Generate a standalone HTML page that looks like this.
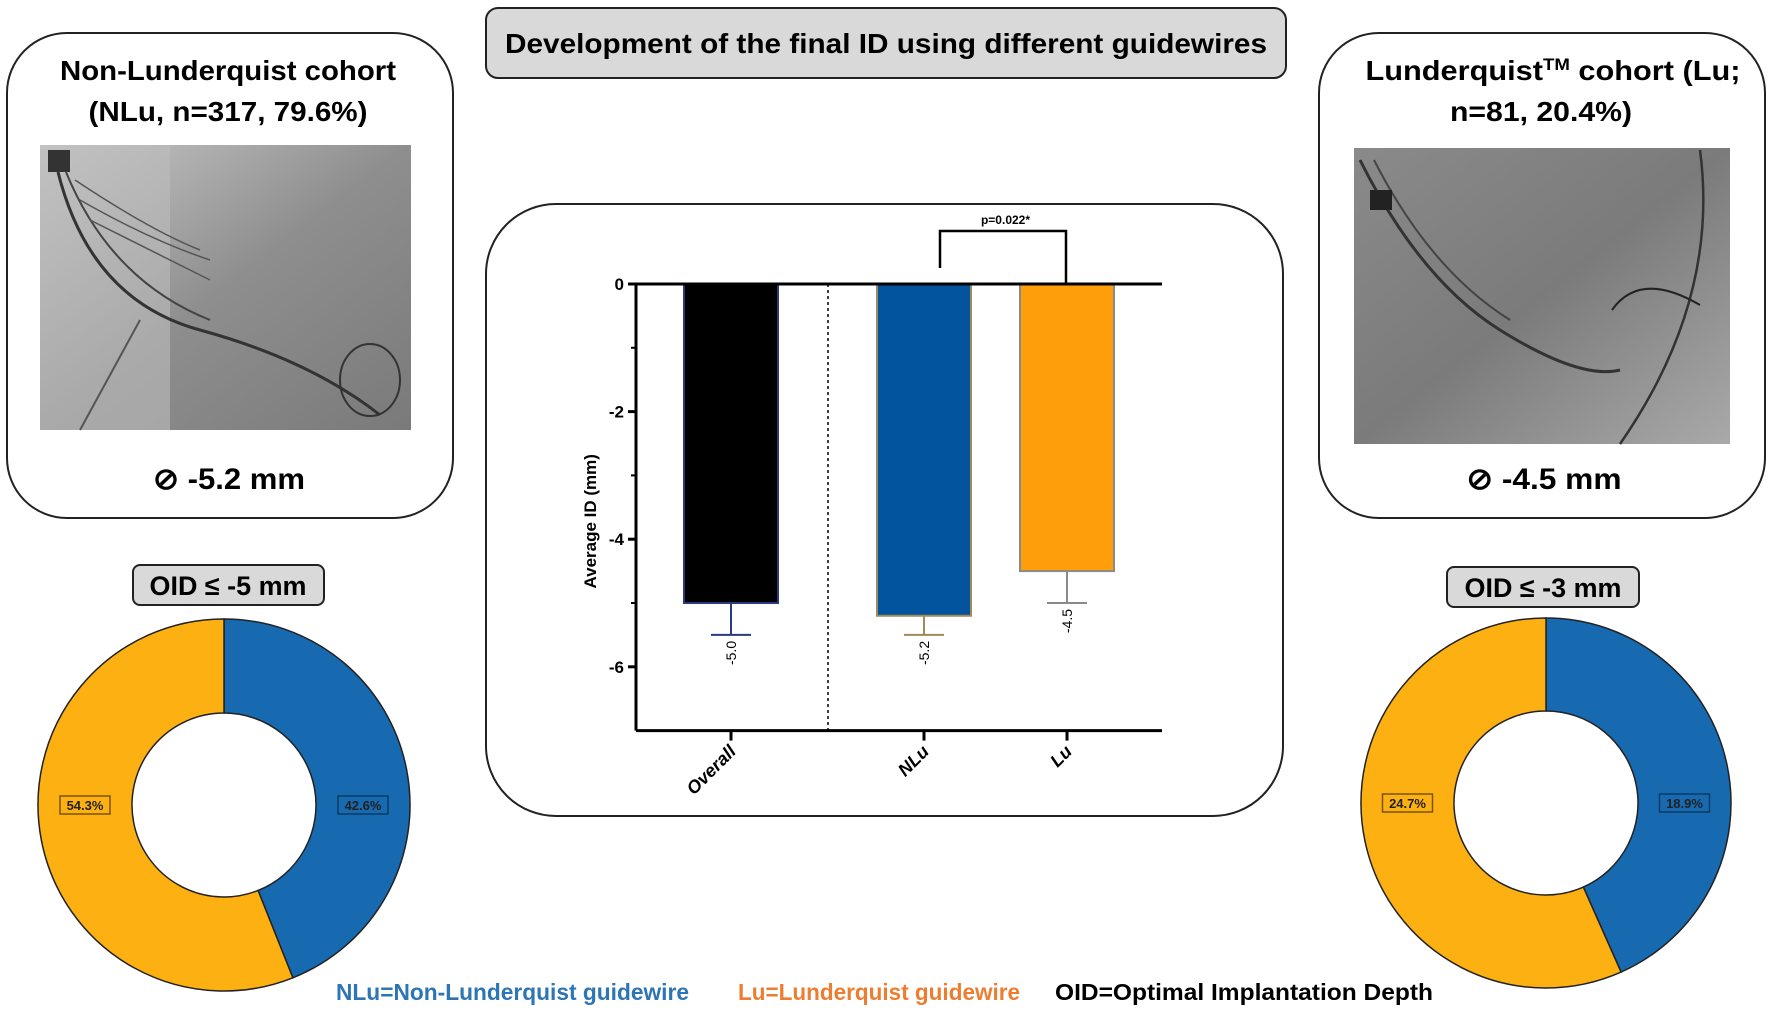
<!DOCTYPE html>
<html><head><meta charset="utf-8"><style>
html,body{margin:0;padding:0;background:#fff;}
svg{display:block;font-family:"Liberation Sans",sans-serif;}
</style></head><body>
<svg id="root" width="1772" height="1012" viewBox="0 0 1772 1012" xmlns="http://www.w3.org/2000/svg">
<defs>
<linearGradient id="xr1" x1="0" y1="0" x2="1" y2="1"><stop offset="0" stop-color="#c9c9c9"/><stop offset="0.5" stop-color="#8e8e8e"/><stop offset="1" stop-color="#7a7a7a"/></linearGradient>
<linearGradient id="xr2" x1="0" y1="0" x2="1" y2="1"><stop offset="0" stop-color="#8a8a8a"/><stop offset="0.5" stop-color="#7b7b7b"/><stop offset="1" stop-color="#a9a9a9"/></linearGradient>
</defs>

<g>
<rect x="486" y="8" width="800" height="70" rx="12" fill="#d9d9d9" stroke="#222" stroke-width="2"/>
<text x="886" y="53" text-anchor="middle" font-size="28" font-weight="bold" textLength="762" lengthAdjust="spacingAndGlyphs">Development of the final ID using different guidewires</text>
</g>

<g>
<rect x="7" y="33" width="446" height="485" rx="60" fill="#fff" stroke="#222" stroke-width="2"/>
<text x="228" y="80" text-anchor="middle" font-size="28" font-weight="bold" textLength="336" lengthAdjust="spacingAndGlyphs">Non-Lunderquist cohort</text>
<text x="228" y="121" text-anchor="middle" font-size="28" font-weight="bold" textLength="279" lengthAdjust="spacingAndGlyphs">(NLu, n=317, 79.6%)</text>
<g>
<rect x="40" y="145" width="371" height="285" fill="url(#xr1)"/>
<rect x="40" y="145" width="130" height="285" fill="#bdbdbd" opacity="0.6"/>
<rect x="48" y="150" width="22" height="22" fill="#333"/>
<path d="M58 172 Q90 300 200 330 T 380 415" fill="none" stroke="#333" stroke-width="3"/>
<path d="M66 172 Q110 280 210 320" fill="none" stroke="#444" stroke-width="2"/>
<path d="M75 180 Q150 230 200 250 M80 200 Q150 240 210 260 M90 220 Q150 250 210 280" fill="none" stroke="#555" stroke-width="1.5"/>
<ellipse cx="370" cy="380" rx="30" ry="36" fill="none" stroke="#333" stroke-width="2"/>
<path d="M140 320 L80 430" stroke="#555" stroke-width="2"/>
</g>
<text x="229" y="489" text-anchor="middle" font-size="30" font-weight="bold" textLength="152" lengthAdjust="spacingAndGlyphs">⊘ -5.2 mm</text>
</g>

<g>
<rect x="1319" y="33" width="446" height="485" rx="60" fill="#fff" stroke="#222" stroke-width="2"/>
<text x="1553" y="80" text-anchor="middle" font-size="28" font-weight="bold" textLength="375" lengthAdjust="spacingAndGlyphs">Lunderquist<tspan font-size="17" dy="-10">TM</tspan><tspan dy="10"> cohort (Lu;</tspan></text>
<text x="1541" y="121" text-anchor="middle" font-size="28" font-weight="bold" textLength="182" lengthAdjust="spacingAndGlyphs">n=81, 20.4%)</text>
<g>
<rect x="1354" y="148" width="376" height="296" fill="url(#xr2)"/>
<path d="M1360 160 Q1420 280 1500 330 T1620 370" fill="none" stroke="#333" stroke-width="3"/>
<path d="M1374 160 Q1430 270 1510 320" fill="none" stroke="#444" stroke-width="2"/>
<rect x="1370" y="190" width="22" height="20" fill="#222"/>
<path d="M1700 150 Q1720 300 1620 444" fill="none" stroke="#333" stroke-width="2.5"/>
<path d="M1612 310 Q1640 270 1700 305" fill="none" stroke="#222" stroke-width="2"/>
</g>
<text x="1544" y="489" text-anchor="middle" font-size="30" font-weight="bold" textLength="155" lengthAdjust="spacingAndGlyphs">⊘ -4.5 mm</text>
</g>

<g>
<rect x="133" y="565" width="191" height="40" rx="7" fill="#d9d9d9" stroke="#222" stroke-width="2"/>
<text x="228" y="595" text-anchor="middle" font-size="27" font-weight="bold" textLength="157" lengthAdjust="spacingAndGlyphs">OID ≤ -5 mm</text>
</g>
<g>
<rect x="1447" y="567" width="192" height="40" rx="7" fill="#d9d9d9" stroke="#222" stroke-width="2"/>
<text x="1543" y="597" text-anchor="middle" font-size="27" font-weight="bold" textLength="157" lengthAdjust="spacingAndGlyphs">OID ≤ -3 mm</text>
</g>

<rect x="486" y="204" width="797" height="612" rx="70" fill="#fff" stroke="#222" stroke-width="2"/>
<g id="bars"></g>
<g id="donuts"></g>

<g>
<text x="336" y="1000" font-size="23" font-weight="bold" fill="#2E75B6" textLength="353" lengthAdjust="spacingAndGlyphs">NLu=Non-Lunderquist guidewire</text>
<text x="738" y="1000" font-size="23" font-weight="bold" fill="#ED7D31" textLength="282" lengthAdjust="spacingAndGlyphs">Lu=Lunderquist guidewire</text>
<text x="1055" y="1000" font-size="23" font-weight="bold" fill="#000" textLength="378" lengthAdjust="spacingAndGlyphs">OID=Optimal Implantation Depth</text>
</g>
</svg>
<script>
const categories = ["Overall", "NLu", "Lu"];
const barValues = [-5.0, -5.2, -4.5];
const errLow = [-5.5, -5.5, -5.0];
const valueLabels = ["-5.0", "-5.2", "-4.5"];
const yTicks = [0, -2, -4, -6];
const donutLeftValues = [42.6, 54.3];
const donutLeftLabels = ["42.6%", "54.3%"];
const donutRightValues = [18.9, 24.7];
const donutRightLabels = ["18.9%", "24.7%"];

const NS = "http://www.w3.org/2000/svg";
function mk(tag, attrs, parent){const e=document.createElementNS(NS,tag);for(const k in attrs)e.setAttribute(k,attrs[k]);parent.appendChild(e);return e;}

const Y0 = 284, PER = 63.8, YMIN = -7;
function yS(v){return Y0 - v*PER;}
const barCenters = [731, 924, 1067];
function xS(i){return barCenters[i];}
const BW = 94;
const g = document.getElementById('bars');
const fills=["#000000","#02549E","#FF9E0B"], strokes=["#2a3a80","#a08a5a","#8a8a8a"];
const axX = 636, axR = 1162;
let e = mk('line',{x1:axX,y1:yS(0),x2:axX,y2:yS(YMIN),stroke:'#000','stroke-width':3},g);


yTicks.forEach(t=>{
  let l=mk('line',{x1:axX-8,y1:yS(t),x2:axX,y2:yS(t),stroke:'#000','stroke-width':3},g);
  
  
  let tx=mk('text',{x:axX-12,y:yS(t)+6,'text-anchor':'end','font-size':17,'font-weight':'bold'},g);
  tx.textContent=t;
  
  
});
[-1,-3,-5].forEach(t=>{let l=mk('line',{x1:axX-5,y1:yS(t),x2:axX,y2:yS(t),stroke:'#000','stroke-width':2},g);
  
  });
let yt=mk('text',{x:0,y:0,transform:`translate(596,${(yS(0)+yS(YMIN))/2+14}) rotate(-90)`,'text-anchor':'middle','font-size':17,'font-weight':'bold'},g);
yt.textContent='Average ID (mm)';


let d=mk('line',{x1:828,y1:yS(0),x2:828,y2:yS(YMIN),stroke:'#000','stroke-width':1.5,'stroke-dasharray':'3,3'},g);


categories.forEach((c,i)=>{
  const cx=xS(i);
  let r=mk('rect',{x:cx-BW/2,y:yS(0),width:BW,height:yS(barValues[i])-yS(0),fill:fills[i],stroke:strokes[i],'stroke-width':2},g);
  
  
  let el=mk('path',{d:`M${cx} ${yS(barValues[i])} V${yS(errLow[i])} M${cx-20} ${yS(errLow[i])} H${cx+20}`,stroke:strokes[i],'stroke-width':2,fill:'none'},g);
  
  
  let vl=mk('text',{x:0,y:0,transform:`translate(${cx+5},${yS(errLow[i])+6}) rotate(-90)`,'text-anchor':'end','font-size':14},g);
  vl.textContent=valueLabels[i];
  
  
  let tk=mk('line',{x1:cx,y1:yS(YMIN),x2:cx,y2:yS(YMIN)+10,stroke:'#000','stroke-width':3},g);
  
  
  let xl=mk('text',{x:0,y:0,transform:`translate(${cx+6},${yS(YMIN)+22}) rotate(-45)`,'text-anchor':'end','font-size':18,'font-weight':'bold','font-style':'italic'},g);
  xl.textContent=c;
  
  
});
e=mk('line',{x1:axX,y1:yS(0),x2:axR,y2:yS(0),stroke:'#000','stroke-width':3},g);


e=mk('line',{x1:axX,y1:yS(YMIN),x2:axR,y2:yS(YMIN),stroke:'#000','stroke-width':3},g);


let br=mk('path',{d:`M${xS(1)+16} ${yS(0)-16} V${yS(0)-53} H${xS(2)-1} V${yS(0)}`,stroke:'#000','stroke-width':2.5,fill:'none'},g);


let pt=mk('text',{x:(xS(1)+16+xS(2))/2+2,y:yS(0)-60,'text-anchor':'middle','font-size':12,'font-weight':'bold'},g);
pt.textContent='p=0.022*';



const dg=document.getElementById('donuts');
function donut(cx,cy,R,r,vals,labels,name){
  const tot=vals.reduce((a,b)=>a+b,0);
  const cols=['#1769B0','#FDB012'];
  const labelCols=['#0d3b66','#7a5200'];
  let a0=-Math.PI/2;
  vals.forEach((v,i)=>{
    const a1=a0+v/tot*2*Math.PI; const big=(a1-a0)>Math.PI?1:0;
    const p=`M${cx+R*Math.cos(a0)} ${cy+R*Math.sin(a0)} A${R} ${R} 0 ${big} 1 ${cx+R*Math.cos(a1)} ${cy+R*Math.sin(a1)} L${cx+r*Math.cos(a1)} ${cy+r*Math.sin(a1)} A${r} ${r} 0 ${big} 0 ${cx+r*Math.cos(a0)} ${cy+r*Math.sin(a0)} Z`;
    let s=mk('path',{d:p,fill:cols[i],stroke:'#222','stroke-width':1.5},dg);
    
    
    const lx = i===0 ? cx+(R+r)/2 : cx-(R+r)/2;
    let lb=mk('rect',{x:lx-25,y:cy-9,width:50,height:18,fill:'none',stroke:labelCols[i],'stroke-width':1.5},dg);
    
    
    let t=mk('text',{x:lx,y:cy+5,'text-anchor':'middle','font-size':13,'font-weight':'bold',fill:'#222'},dg);
    t.textContent=labels[i];
    
    
    a0=a1;
  });
}
donut(224,805,186,92,donutLeftValues,donutLeftLabels,'donut-left');
donut(1546,803,185,92,donutRightValues,donutRightLabels,'donut-right');
</script>
</body></html>
